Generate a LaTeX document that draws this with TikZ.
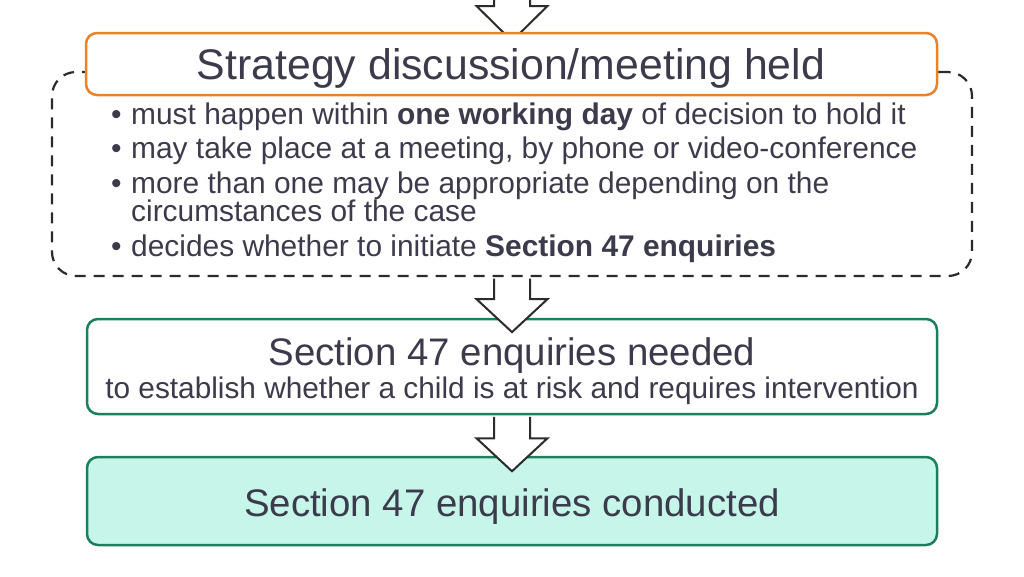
\documentclass[tikz,border=0pt]{standalone}
\usepackage{fontspec}
\setmainfont{Liberation Sans}
\usetikzlibrary{calc}
\definecolor{txt}{HTML}{3B3B4B}
\definecolor{orng}{HTML}{E8832A}
\definecolor{grn}{HTML}{1C7E5D}
\definecolor{mint}{HTML}{C6F6E9}
\definecolor{ink}{HTML}{2B2B2B}

\begin{document}
\begin{tikzpicture}[x=1pt,y=-1pt]
\tikzstyle{stagebox}=[draw=grn,line width=2.5pt,rounded corners=11pt,fill=white,minimum width=850pt,inner sep=0pt]
\tikzstyle{frame}=[draw=ink,line width=2.2pt,dash pattern=on 11pt off 8pt,rounded corners=24pt,minimum width=920pt,minimum height=204pt,inner sep=0pt]
\tikzstyle{blockarrow}=[draw=ink,line width=2pt,fill=white,line join=miter]
\tikzstyle{heading}=[anchor=base,inner sep=0pt,text=txt,font=\fontsize{38.4}{40}\selectfont]
\tikzstyle{point}=[anchor=base west,inner sep=0pt,text=txt,font=\fontsize{29.9}{30}\selectfont]
\useasboundingbox (0,0) rectangle (1024,576);
% dashed frame and arrow into the first box
\node[frame] (d0) at (512,174) {};
\coordinate (a0) at (512,-10);
\filldraw[blockarrow] ($(a0)+(-18,0)$) -- ($(a0)+(-18,16)$) -- ($(a0)+(-35.5,16)$) -- ($(a0)+(0,51)$) -- ($(a0)+(35.5,16)$) -- ($(a0)+(18,16)$) -- ($(a0)+(18,0)$);
\node[stagebox,draw=orng,minimum width=851pt,minimum height=62pt] (b0) at (511.5,64) {};
\node[heading,font=\fontsize{42.8}{44}\selectfont] (t0) at (511,79) {Strategy discussion/meeting held};
\node[point] (l1) at (111,124) {\makebox[20pt][l]{\textbullet}must happen within \textbf{one working day} of decision to hold it};
\node[point] (l2) at (111,158) {\makebox[20pt][l]{\textbullet}may take place at a meeting, by phone or video-conference};
\node[point] (l3) at (111,193) {\makebox[20pt][l]{\textbullet}more than one may be appropriate depending on the};
\node[point] (l4) at (131,221) {circumstances of the case};
\node[point] (l5) at (111,256) {\makebox[20pt][l]{\textbullet}decides whether to initiate \textbf{Section 47 enquiries}};
% the two section 47 boxes
\node[stagebox,minimum height=95pt] (b1) at (512,366.5) {};
\node[heading] (t1) at (512,365) {Section 47 enquiries needed};
\node[point,anchor=base,font=\fontsize{29.8}{30}\selectfont] (t1s) at (512,398) {to establish whether a child is at risk and requires intervention};
\node[stagebox,fill=mint,minimum height=88pt] (b2) at (512,501) {};
\node[heading] (t2) at (512,516) {Section 47 enquiries conducted};
\filldraw[blockarrow] ($(d0.south)+(-18,1.5)$) -- ($(d0.south)+(-18,22)$) -- ($(d0.south)+(-35.5,22)$) -- ($(d0.south)+(0,55)$) -- ($(d0.south)+(35.5,22)$) -- ($(d0.south)+(18,22)$) -- ($(d0.south)+(18,1.5)$);
\filldraw[blockarrow] ($(b1.south)+(-18,1.5)$) -- ($(b1.south)+(-18,23)$) -- ($(b1.south)+(-35.5,23)$) -- ($(b1.south)+(0,56)$) -- ($(b1.south)+(35.5,23)$) -- ($(b1.south)+(18,23)$) -- ($(b1.south)+(18,1.5)$);
\end{tikzpicture}
\end{document}
